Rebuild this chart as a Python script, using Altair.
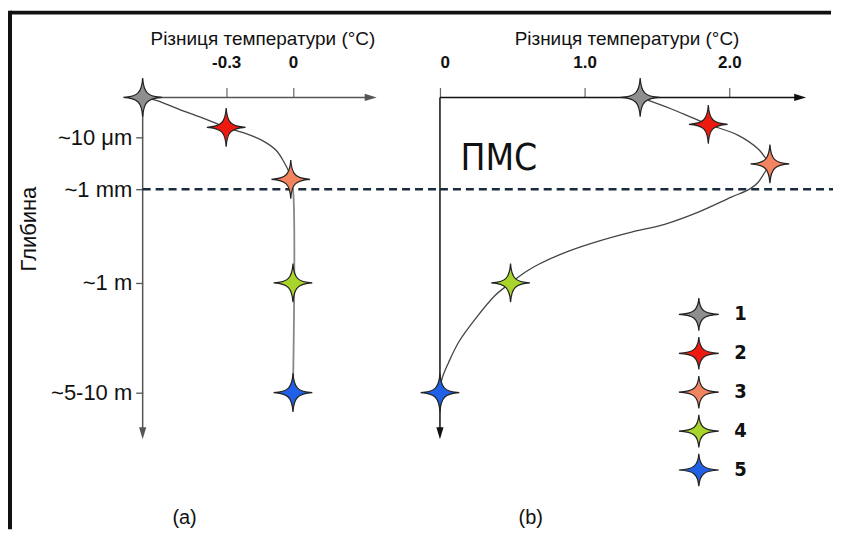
import json
import altair as alt
import pandas as pd

# ---------------- data ----------------
series = ["1", "2", "3", "4", "5"]
colors = ["#8e8e8e", "#ee1a10", "#f2845f", "#a8d42c", "#1f60e6"]

depth_levels = [1, 2, 3, 4]
depth_labels = ["~10 μm", "~1 mm", "~1 m", "~5-10 m"]

# panel (a): temperature difference (°C) and schematic depth level of the stars
a_temp = [-0.675, -0.30, -0.01, 0.0, 0.0]
a_depth = [0.0, 0.75, 1.81, 3.0, 4.0]
# panel (a) profile curve
a_curve_t = [-0.675, -0.614, -0.511, -0.390, -0.300, -0.228, -0.139, -0.076, -0.040, -0.018, -0.01]
a_curve_d = [0.0, 0.075, 0.30, 0.55, 0.75, 0.875, 1.058, 1.25, 1.48, 1.67, 1.81]
a_stem_t = [-0.01, 0.0, 0.0]
a_stem_d = [1.81, 2.0, 4.0]

# panel (b)
b_temp = [1.384, 1.855, 2.281, 0.488, 0.0]
b_depth = [0.0, 0.675, 1.513, 3.0, 4.0]
b_curve_t = [1.384, 1.600, 1.738, 1.855, 2.062, 2.200, 2.255, 2.281, 2.246, 2.200, 2.143,
             2.014, 1.786, 1.559, 1.324, 1.097, 0.890, 0.683, 0.591, 0.488, 0.384, 0.246,
             0.131, 0.062, 0.014, 0.0]
b_curve_d = [0.0, 0.29, 0.50, 0.675, 0.95, 1.225, 1.417, 1.513, 1.673, 1.865, 1.994,
             2.085, 2.245, 2.372, 2.457, 2.553, 2.66, 2.80, 2.883, 3.0, 3.11, 3.325,
             3.536, 3.718, 3.873, 4.0]

a_ticks = [-0.3, 0.0]
b_ticks = [0.0, 1.0, 2.0]
x_title = "Різниця температури (°C)"
side_title = "Глибина"
layer_name = "ПМС"
panel_names = ["(a)", "(b)"]

# ---------------- styling ----------------
FONT = "Liberation Sans, Arial, sans-serif"
NARROW = "DejaVu Sans Condensed, Liberation Sans, Arial, sans-serif"
STAR = ("M0,-1 C0.05,-0.25 0.25,-0.05 1,0 C0.25,0.05 0.05,0.25 0,1 "
        "C-0.05,0.25 -0.25,0.05 -1,0 C-0.25,-0.05 -0.05,-0.25 0,-1 Z")
LEG_STAR = ("M0,-0.88 C0.05,-0.22 0.27,-0.05 1.08,0 C0.27,0.05 0.05,0.22 0,0.88 "
            "C-0.05,0.22 -0.27,0.05 -1.08,0 C-0.27,-0.05 -0.05,-0.22 0,-0.88 Z")
RIGHT_ARROW = "M-1,-0.6 L1,0 L-1,0.6 Z"
DOWN_ARROW = "M-0.6,-1 L0.6,-1 L0,1 Z"
STAR_SIZE = 1500
TICK_EXPR = ("datum.value == 0 ? '0' : (datum.value < 0 ? '-' + format(-datum.value, '.1f') "
             ": format(datum.value, '.1f'))")

y_scale = alt.Scale(domain=[0, 1, 2, 3, 4], range=[0, 40, 92, 186, 296], nice=False, zero=False)
label_lookup = json.dumps([""] + depth_labels, ensure_ascii=False)


def panel(width, x_dom, ticks, title_x, s_t, s_d, curves, x_arrow, y_arrow,
          axis_color, show_y, legend, extras):
    xs = alt.Scale(domain=x_dom, nice=False, zero=False)
    x_axis = alt.Axis(orient="top", values=ticks, domain=False, grid=False,
                      tickSize=10, tickColor="#666", tickWidth=1.2,
                      labelFont=FONT, labelFontSize=17, labelFontWeight="bold",
                      labelColor="#111", labelPadding=16, labelExpr=TICK_EXPR,
                      title=x_title, titleFont=FONT, titleFontSize=19,
                      titleFontWeight="normal", titleColor="#111",
                      titleX=title_x, titleY=-53, titleAlign="center",
                      titleBaseline="alphabetic", titleAnchor="start")
    if show_y:
        y_axis = alt.Axis(values=depth_levels, domain=False, grid=False,
                          tickSize=7, tickColor="#555", tickWidth=1.3,
                          labelFont=FONT, labelFontSize=22, labelColor="#111",
                          labelPadding=4, labelBaseline="middle",
                          labelExpr=label_lookup + "[datum.value]", title=None)
    else:
        y_axis = None

    x0 = x_dom[0]
    axes_df = pd.DataFrame({"t": [x0, x0], "t2": [x_arrow, x0], "d": [0.0, 0.0], "d2": [0.0, y_arrow]})
    base_axes = alt.Chart(axes_df).mark_rule(color=axis_color, strokeWidth=1.5).encode(
        x=alt.X("t:Q", scale=xs, axis=x_axis),
        x2="t2:Q",
        y=alt.Y("d:Q", scale=y_scale, axis=y_axis),
        y2="d2:Q",
    )
    arrows_x = alt.Chart(pd.DataFrame({"t": [x_arrow], "d": [0.0]})).mark_point(
        shape=RIGHT_ARROW, size=144, filled=True, color=axis_color, opacity=1
    ).encode(x=alt.X("t:Q", scale=xs), y=alt.Y("d:Q", scale=y_scale))
    arrows_y = alt.Chart(pd.DataFrame({"t": [x0], "d": [y_arrow]})).mark_point(
        shape=DOWN_ARROW, size=144, filled=True, color=axis_color, opacity=1
    ).encode(x=alt.X("t:Q", scale=xs), y=alt.Y("d:Q", scale=y_scale))

    dash = alt.Chart(pd.DataFrame({"t": [x0], "t2": [x_dom[1]], "d": [2.0]})).mark_rule(
        color="#1b2a3c", strokeWidth=2.6, strokeDash=[8, 5]
    ).encode(x=alt.X("t:Q", scale=xs), x2="t2:Q", y=alt.Y("d:Q", scale=y_scale))

    line_layers = []
    for ct, cd, col, w in curves:
        df = pd.DataFrame({"t": ct, "d": cd, "i": list(range(len(ct)))})
        line_layers.append(
            alt.Chart(df).mark_line(color=col, strokeWidth=w, interpolate="catmull-rom").encode(
                x=alt.X("t:Q", scale=xs), y=alt.Y("d:Q", scale=y_scale), order="i:Q"
            )
        )

    stars_df = pd.DataFrame({"t": s_t, "d": s_d, "s": series})
    if legend:
        leg = alt.Legend(title=None, orient="none", legendX=240, legendY=198,
                         symbolType=LEG_STAR, symbolSize=1369, symbolStrokeColor="#222",
                         symbolStrokeWidth=1.2, symbolOpacity=1, labelFont=NARROW,
                         labelFontSize=20, labelFontWeight="bold", labelColor="#111",
                         labelOffset=16, rowPadding=0, padding=0)
    else:
        leg = None
    stars = alt.Chart(stars_df).mark_point(
        shape=STAR, size=STAR_SIZE, filled=True, stroke="#222", strokeWidth=1.2, opacity=1
    ).encode(
        x=alt.X("t:Q", scale=xs),
        y=alt.Y("d:Q", scale=y_scale),
        color=alt.Color("s:N", scale=alt.Scale(domain=series, range=colors), legend=leg),
    )

    layers = [base_axes, arrows_x, arrows_y, dash] + line_layers + [stars] + extras
    return alt.layer(*layers).properties(width=width, height=340)


# decorations (pixel positions relative to the plot areas)
frame_top = alt.Chart().mark_rule(color="#111", strokeWidth=4).encode(
    x=alt.value(-133), x2=alt.value(690), y=alt.value(-85))
frame_left = alt.Chart().mark_rule(color="#111", strokeWidth=4).encode(
    x=alt.value(-133), y=alt.value(-87), y2=alt.value(433))
side = alt.Chart().mark_text(font=FONT, fontSize=22, angle=270, color="#111",
                             align="center", baseline="middle").encode(
    x=alt.value(-114), y=alt.value(132), text=alt.value(side_title))
lab_a = alt.Chart().mark_text(font=FONT, fontSize=20, color="#111",
                              align="center", baseline="middle").encode(
    x=alt.value(42), y=alt.value(422), text=alt.value(panel_names[0]))
lab_b = alt.Chart().mark_text(font=FONT, fontSize=20, color="#111",
                              align="center", baseline="middle").encode(
    x=alt.value(91), y=alt.value(422), text=alt.value(panel_names[1]))
pmc = alt.Chart().mark_text(font=NARROW, fontSize=37, color="#111",
                            align="center", baseline="middle").encode(
    x=alt.value(59), y=alt.value(62), text=alt.value(layer_name))

pa = panel(298, [-0.675, 0.66], a_ticks, 120, a_temp, a_depth,
           [(a_curve_t, a_curve_d, "#444", 1.3), (a_stem_t, a_stem_d, "#888", 1.8)],
           0.349, 4.37, "#555", True, False, [frame_top, frame_left, side, lab_a])
pb = panel(394, [0.0, 2.717], b_ticks, 187, b_temp, b_depth,
           [(b_curve_t, b_curve_d, "#444", 1.3)],
           2.49, 4.37, "#111", False, True, [lab_b, pmc])

chart = alt.hconcat(pa, pb, spacing=0, bounds="flush").resolve_scale(
    color="independent"
).properties(padding=0, background="white").configure_view(strokeWidth=0)

chart.save("out.html", embed_options={"renderer": "svg", "actions": False})
